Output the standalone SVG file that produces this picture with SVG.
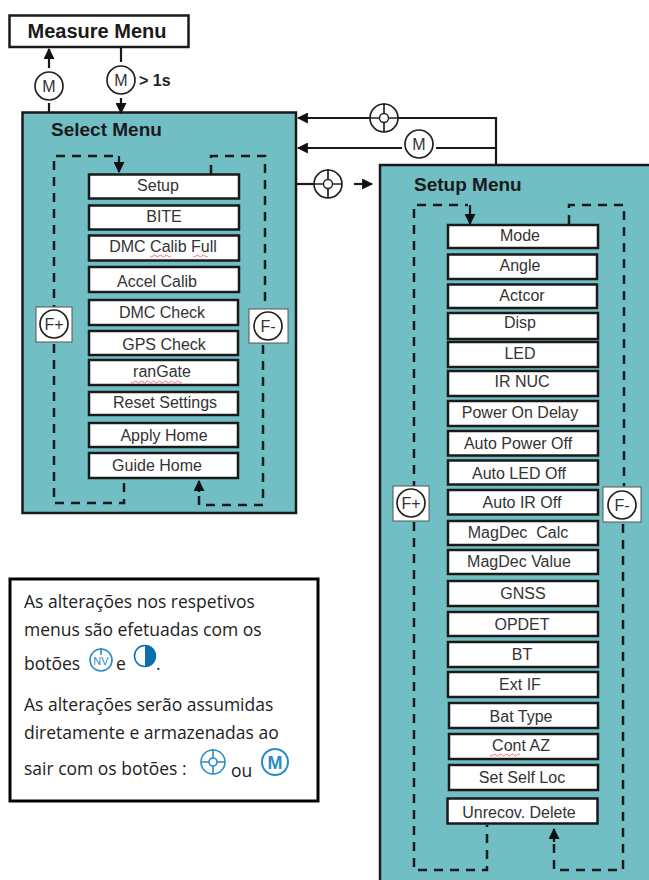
<svg xmlns="http://www.w3.org/2000/svg" width="649" height="880" viewBox="0 0 649 880">
<style>
text{font-family:"Liberation Sans",Arial,sans-serif;fill:#333}
.h{font-weight:700;font-size:19px;fill:#1a1a1a}
.panel{fill:#72bec5;stroke:#1a1a1a;stroke-width:2.5}
.item{fill:#fff;stroke:#1a1a1a;stroke-width:2.5}
.t{font-size:16px;text-anchor:middle}
.line{fill:none;stroke:#1a1a1a;stroke-width:2.2}
.dash{fill:none;stroke:#1a1a1a;stroke-width:2.5;stroke-dasharray:9 7}
.c{fill:#fff;stroke:#222;stroke-width:1.7}
.k{font-size:16px;text-anchor:middle}
.btn{fill:#fff;stroke:#555;stroke-width:1}
.sq{fill:none;stroke:#e66;stroke-width:.9}
.note{font-family:"Open Sans","Noto Sans",sans-serif;font-size:17.5px;fill:#222}
.bl{fill:none;stroke:#2a8cc4;stroke-width:1.6}
</style>
<defs>
<marker id="a" viewBox="0 0 10 10" refX="9" refY="5" markerWidth="5" markerHeight="5" orient="auto"><path d="M0 0L10 5L0 10Z" fill="#111"/></marker>
<g id="joy"><circle r="14" class="c"/><circle r="4.5" fill="none" stroke="#222" stroke-width="1.4"/><path d="M0 -15V-5M0 5V14M-14 0H-5M5 0H14" stroke="#222" stroke-width="1.7" fill="none"/></g>
<g id="bjoy"><circle r="12" class="bl"/><circle r="4" class="bl"/><path d="M0 -13V-4M-12 0H-4M4 0H12M0 4V12" class="bl"/></g>
</defs>

<g id="measure-menu"><rect x="9.500" y="15.500" width="179" height="31.500" fill="#fff" stroke="#1a1a1a" stroke-width="2.500"/><text x="97" y="38" class="h" text-anchor="middle" style="font-size:20px">Measure Menu</text></g>

<g id="select-menu"><rect x="22.500" y="112.500" width="273.500" height="400.500" class="panel"/><text x="51" y="136" class="h">Select Menu</text></g>
<g id="setup-menu"><rect x="380" y="165" width="275" height="725" class="panel"/><text x="414" y="191" class="h">Setup Menu</text></g>

<g id="connectors">
<path d="M49 68V49" class="line" marker-end="url(#a)"/><path d="M49 103V112" class="line"/>
<path d="M121 47V62" class="line"/><path d="M121 98V113" class="line" marker-end="url(#a)"/>
<path d="M496 165V118H368M368 118H298" class="line" marker-end="url(#a)"/>
<path d="M496 148H436M402 148H298" class="line" marker-end="url(#a)"/>
<path d="M296 184H314" class="line"/><path d="M354 184H372" class="line" marker-end="url(#a)"/>
<path d="M54 330V156H114" class="dash"/><path d="M119 156V172" class="line" marker-end="url(#a)"/>
<path d="M54 344V503H124V479" class="dash"/>
<path d="M211 174V156H265V306" class="dash"/>
<path d="M263 345V505H199V483" class="dash"/><path d="M199 492V481" class="line" marker-end="url(#a)"/>
<path d="M414 490V205H468" class="dash"/><path d="M470 205V224" class="line" marker-end="url(#a)"/>
<path d="M414 522V870H487V825" class="dash"/>
<path d="M569 224V205H624V486" class="dash"/>
<path d="M623 524V870H554V840" class="dash"/><path d="M554 842V829" class="line" marker-end="url(#a)"/>
</g>

<g id="btn-m1"><circle cx="49" cy="86" r="14" class="c"/><text x="49" y="92" class="k">M</text></g>
<g id="btn-m2"><circle cx="121" cy="80" r="14" class="c"/><text x="121" y="86" class="k">M</text><text x="139" y="86" style="font-size:16px;font-weight:700;fill:#222">&gt; 1s</text></g>
<g id="btn-joy1"><use href="#joy" x="384" y="118"/></g>
<g id="btn-m3"><circle cx="419" cy="144" r="14" class="c"/><text x="419" y="150" class="k">M</text></g>
<g id="btn-joy2"><use href="#joy" x="328" y="184"/></g>

<g id="btn-fplus1"><rect x="36" y="307" width="36" height="35" class="btn"/><circle cx="54" cy="324" r="14" class="c"/><text x="54" y="330" class="k">F+</text></g>
<g id="btn-fminus1"><rect x="249" y="309" width="39" height="34" class="btn"/><circle cx="268" cy="326" r="14" class="c"/><text x="268" y="332" class="k">F-</text></g>
<g id="btn-fplus2"><rect x="393" y="486" width="36" height="35" class="btn"/><circle cx="411" cy="503" r="14" class="c"/><text x="411" y="509" class="k">F+</text></g>
<g id="btn-fminus2"><rect x="603" y="487" width="38" height="35" class="btn"/><circle cx="622" cy="505" r="14" class="c"/><text x="622" y="511" class="k">F-</text></g>

<g id="s-setup"><rect x="89" y="174.500" width="150" height="24" class="item"/><text x="158" y="191" class="t">Setup</text></g>
<g id="s-bite"><rect x="89" y="205.500" width="150" height="24" class="item"/><text x="164" y="222" class="t">BITE</text></g>
<g id="s-dmc-calib"><rect x="89" y="235.500" width="150" height="25" class="item"/><text x="163" y="252" class="t">DMC Calib Full</text><path d="M150 256q1.500 2 3 0t3 0 3 0 3 0 3 0 3 0 3 0M193 256q1.500 2 3 0t3 0 3 0 3 0 3 0" class="sq"/></g>
<g id="s-accel"><rect x="89" y="267" width="150" height="25" class="item"/><text x="157" y="287" class="t">Accel Calib</text></g>
<g id="s-dmc-check"><rect x="89" y="300" width="149" height="25" class="item"/><text x="162" y="318" class="t">DMC Check</text></g>
<g id="s-gps"><rect x="89" y="331" width="149" height="24" class="item"/><text x="164" y="350" class="t">GPS Check</text></g>
<g id="s-rangate"><rect x="89" y="360" width="149" height="25" class="item"/><text x="162" y="377" class="t">ranGate</text><path d="M131 382q1.500 2 3 0t3 0 3 0 3 0 3 0 3 0 3 0 3 0 3 0 3 0 3 0 3 0 3 0 3 0 3 0 3 0 3 0" class="sq"/></g>
<g id="s-reset"><rect x="89" y="392" width="149" height="23" class="item"/><text x="165" y="408" class="t">Reset Settings</text></g>
<g id="s-apply"><rect x="89" y="423" width="149" height="24" class="item"/><text x="164" y="441" class="t">Apply Home</text></g>
<g id="s-guide"><rect x="89" y="453" width="149" height="25" class="item"/><text x="157" y="471" class="t">Guide Home</text></g>

<g id="m-mode"><rect x="448" y="225" width="150" height="23" class="item"/><text x="520" y="241" class="t">Mode</text></g>
<g id="m-angle"><rect x="448" y="254.500" width="149" height="24.500" class="item"/><text x="520" y="271" class="t">Angle</text></g>
<g id="m-actcor"><rect x="448" y="284.500" width="149" height="23.500" class="item"/><text x="522" y="301" class="t">Actcor</text></g>
<g id="m-disp"><rect x="448" y="313" width="150" height="26" class="item"/><text x="520" y="328" class="t">Disp</text></g>
<g id="m-led"><rect x="448" y="342" width="150" height="25" class="item"/><text x="520" y="359" class="t">LED</text></g>
<g id="m-irnuc"><rect x="448" y="371" width="150" height="25" class="item"/><text x="522" y="387" class="t">IR NUC</text></g>
<g id="m-power"><rect x="448" y="401" width="150" height="25" class="item"/><text x="520" y="418" class="t">Power On Delay</text></g>
<g id="m-autopower"><rect x="448" y="431" width="150" height="24.500" class="item"/><text x="518" y="449" class="t">Auto Power Off</text></g>
<g id="m-autoled"><rect x="448" y="460.500" width="150" height="24" class="item"/><text x="519" y="479" class="t">Auto LED Off</text></g>
<g id="m-autoir"><rect x="448" y="490" width="150" height="24.500" class="item"/><text x="522" y="508" class="t">Auto IR Off</text></g>
<g id="m-magcalc"><rect x="448" y="521" width="150" height="24" class="item"/><text x="518" y="538" class="t" xml:space="preserve">MagDec  Calc</text></g>
<g id="m-magval"><rect x="448" y="550" width="150" height="24" class="item"/><text x="519" y="567" class="t">MagDec Value</text></g>
<g id="m-gnss"><rect x="448" y="581" width="150" height="25" class="item"/><text x="523" y="599" class="t">GNSS</text></g>
<g id="m-opdet"><rect x="448" y="612" width="150" height="24" class="item"/><text x="522" y="630" class="t">OPDET</text></g>
<g id="m-bt"><rect x="448" y="642" width="150" height="25" class="item"/><text x="522" y="660" class="t">BT</text></g>
<g id="m-extif"><rect x="448" y="672" width="150" height="25" class="item"/><text x="520" y="690" class="t">Ext IF</text></g>
<g id="m-bat"><rect x="449" y="703" width="149" height="25" class="item"/><text x="521" y="722" class="t">Bat Type</text></g>
<g id="m-contaz"><rect x="449" y="734" width="149" height="25" class="item"/><text x="521" y="751" class="t">Cont AZ</text><path d="M490 755q1.500 2 3 0t3 0 3 0 3 0 3 0 3 0 3 0 3 0 3 0 3 0" class="sq"/></g>
<g id="m-selfloc"><rect x="449" y="765" width="149" height="25" class="item"/><text x="522" y="783" class="t">Set Self Loc</text></g>
<g id="m-unrecov"><rect x="447.500" y="798.500" width="150" height="25" class="item"/><text x="519" y="818" class="t">Unrecov. Delete</text></g>

<g id="note">
<rect x="10" y="579" width="308" height="222" fill="#fff" stroke="#000" stroke-width="3"/>
<text class="note" x="24" y="608">As alterações nos respetivos</text>
<text class="note" x="24" y="636">menus são efetuadas com os</text>
<text class="note" x="24" y="670">botões</text>
<g transform="translate(101 660)"><circle r="11" class="bl"/><path d="M0 -12V-5" class="bl"/><text y="5" text-anchor="middle" style="font-size:11px;fill:#2a8cc4">NV</text></g>
<text class="note" x="116" y="670">e</text>
<circle cx="145" cy="656" r="10.500" fill="#fff" stroke="#0a6fae" stroke-width="1.500"/><path d="M145 645.500a10.500 10.500 0 0 1 0 21Z" fill="#0a6fae"/>
<text class="note" x="156" y="670">.</text>
<text class="note" x="24" y="711">As alterações serão assumidas</text>
<text class="note" x="24" y="739">diretamente e armazenadas ao</text>
<text class="note" x="24" y="775">sair com os botões :</text>
<use href="#bjoy" x="213" y="762"/>
<text class="note" x="231" y="777">ou</text>
<circle cx="275" cy="762" r="13" class="bl" style="stroke-width:2"/><text x="275" y="769" text-anchor="middle" style="font-size:18px;font-weight:700;fill:#2a8cc4">M</text>
</g>
</svg>
